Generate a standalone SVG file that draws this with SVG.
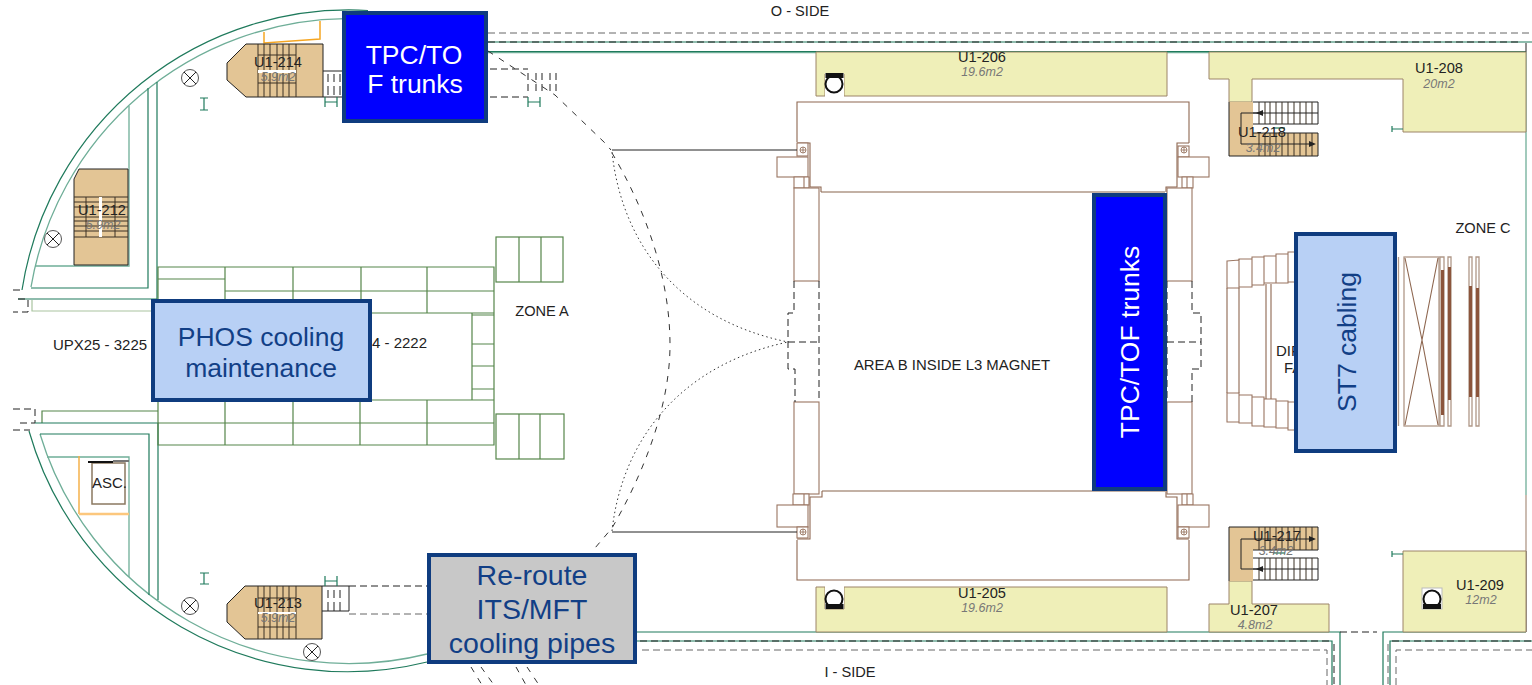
<svg xmlns="http://www.w3.org/2000/svg" width="1532" height="685" viewBox="0 0 1532 685">
<style>
text{font-family:"Liberation Sans",Arial,sans-serif;fill:#222}
.l{font-size:14.600px;text-anchor:middle}
.a{font-size:12.500px;font-style:italic;fill:#777;text-anchor:middle}
.c{font-size:26.500px;text-anchor:middle;fill:#123f86}
.c2{font-size:28.500px;text-anchor:middle;fill:#123f86}
.w{font-size:26.500px;text-anchor:middle;fill:#fff}
.g{fill:none;stroke:#1f7a5c;stroke-width:1.200}
.gl{fill:none;stroke:#6fae98;stroke-width:1.300}
.gr{fill:none;stroke:#55854a;stroke-width:1.200}
.grl{fill:none;stroke:#a9c4a0;stroke-width:1.200}
.b{fill:none;stroke:#8e6750;stroke-width:1.100}
.bl{fill:none;stroke:#b09888;stroke-width:1.300}
.bf{fill:#fff;stroke:#9a7561;stroke-width:1.100}
.k{fill:none;stroke:#222;stroke-width:1}
.kd{fill:none;stroke:#222;stroke-width:1;stroke-dasharray:7 4}
.kg{fill:none;stroke:#666;stroke-width:1;stroke-dasharray:7 4}
.sd{fill:none;stroke:#333;stroke-width:1;stroke-dasharray:6 7}
.dot{fill:none;stroke:#333;stroke-width:1;stroke-dasharray:1.500 3}
.tan{fill:#e3c595;stroke:#222;stroke-width:1}
.tn{fill:#e3c595}
.yel{fill:#efefb8;stroke:#9c8468;stroke-width:1}
.t{fill:none;stroke:#3a3025;stroke-width:1}
.mk{fill:none;stroke:#1f7a5c;stroke-width:1.200}
.xc{fill:#fff;stroke:#555;stroke-width:1}
.box{stroke:#0f3c7f;stroke-width:4}
</style>
<defs>
<g id="xmark"><circle r="8.500" class="xc"/><path d="M-6,-6L6,6M6,-6L-6,6" class="k" stroke="#444"/></g>
<g id="plus"><circle r="3" fill="none" stroke="#8e6750" stroke-width=".8"/><path d="M-3,0H3M0,-3V3" fill="none" stroke="#8e6750" stroke-width=".8"/></g>
</defs>

<g id="walls">
<path class="g" d="M22,290A331,331 0 0 1 368,10.500"/>
<path class="gl" d="M31,287A322.500,322.500 0 0 1 345,18.700"/>
<path class="g" d="M29,431A331,331 0 0 0 427,662"/>
<path class="gl" d="M40,434A322.500,322.500 0 0 0 427,654"/>
<path class="g" d="M157,82V299H18"/>
<path class="g" d="M148,88V288H31"/>
<path class="gl" d="M129,106V266H35"/>
<path class="grl" d="M32,300V311H152"/>
<path class="kd" d="M13,290H22M18,299H28M28,300V312H13"/>
<path class="kd" d="M13,409H35V423H17M13,430H30"/>
<path class="gr" d="M42,423V411H158"/>
<path class="g" d="M35,423H158V600"/>
<path class="g" d="M40,434H149V595"/>
<path class="gl" d="M47,457H129V577"/>
<path fill="none" stroke="#f5a623" stroke-width="1.500" d="M264,32V43L320,39V21"/>
<path fill="none" stroke="#f5b04a" stroke-width="1.500" d="M79,456V514"/>
<path fill="none" stroke="#fcc77d" stroke-width="2.500" d="M79,514H129"/>
<rect x="92" y="463" width="33" height="41" fill="#fff" stroke="#8a7860" stroke-width="1.500"/>
<path fill="none" stroke="#111" stroke-width="2" d="M88,462H113"/>
<path fill="none" stroke="#777" stroke-width="2" d="M113,461H129"/>

<path class="kg" d="M488,33H1532"/>
<path class="g" d="M488,42H1532"/>
<path class="kd" d="M488,42H1520"/>
<path class="gl" d="M488,52.500H1526"/>
<path class="g" d="M488,51.500H1526"/>
<path class="k" stroke="#555" d="M1526,43V52"/>
<path class="gl" d="M1526,52V495"/>
<path class="bl" d="M1526,495V551"/>
<path class="k" stroke="#555" d="M1526,551V632"/>
<path class="g" d="M636,632H1340V685"/>
<path class="kd" d="M1340,632H1377"/>
<path class="g" d="M1383,685V632H1526"/>
<path class="g" d="M636,641H1332V685"/>
<path class="kd" d="M640,641H1330M1334,644V685"/>
<path class="kg" d="M642,650H1327V685"/>
<path class="g" d="M1390,685V641H1532"/>
<path class="kd" d="M1392,641H1532"/>
<path class="kg" d="M1388,644V685M1396,685V650H1532"/>
</g>

<g id="grid">
<rect x="496" y="237" width="67" height="45" class="gr"/><path class="gr" d="M519,237V282M541,237V282"/>
<rect x="496" y="414" width="68" height="45" class="gr"/><path class="gr" d="M519,414V459M540,414V459"/>
<path class="gr" d="M158,267H494V445H158ZM158,279H225M225,267V313M293,267V313M361,267V313M427,267V313M225,291H494M158,313H494M158,400H494M158,423H494M225,400V445M293,400V445M360,400V445M427,400V445M472,313V400M472,315H494M472,344H494M472,366H494M472,389H494"/>
</g>

<g id="magnet">
<path class="b" d="M797,142V102H1189V143M797,540V580H1189V540"/>
<path class="bl" d="M821,192H1165M822,491H1165"/>
<path class="b" d="M797,143H810V187H821V192M1189,143H1177V187H1166V192"/>
<path class="b" d="M797,539H810V497H822V491M1189,539H1177V497H1166V491"/>
<rect x="797" y="143" width="11" height="13" class="bf"/><use href="#plus" x="803" y="150"/>
<rect x="777" y="157" width="31" height="20" class="bf"/>
<path class="bf" d="M794,177H809V188H794ZM804,177V188"/>
<rect x="794" y="188" width="25" height="93" class="bf"/>
<rect x="794" y="402" width="25" height="92" class="bf"/>
<path class="bf" d="M793,494H809V505H793ZM804,494V505"/>
<rect x="777" y="505" width="31" height="22" class="bf"/>
<rect x="797" y="527" width="11" height="11" class="bf"/><use href="#plus" x="803" y="532"/>
<rect x="1178" y="146" width="11" height="11" class="bf"/><use href="#plus" x="1184" y="150"/>
<rect x="1178" y="157" width="31" height="20" class="bf"/>
<path class="bf" d="M1182,177H1193V188H1182ZM1187,177V188"/>
<rect x="1167" y="188" width="25" height="93" class="bf"/>
<rect x="1167" y="402" width="25" height="92" class="bf"/>
<path class="bf" d="M1182,494H1193V505H1182ZM1187,494V505"/>
<rect x="1178" y="505" width="31" height="22" class="bf"/>
<rect x="1178" y="527" width="11" height="11" class="bf"/><use href="#plus" x="1184" y="532"/>
<path class="kd" d="M794,281V313H788V369H795V402M819,281V402M788,342H819"/>
<path class="kd" d="M1192,281V313H1201V369H1192V402M1167,281V402M1167,342H1201"/>
<path class="k" stroke="#444" d="M612,150H797M612,532H797"/>
</g>

<g id="curves">
<path class="sd" d="M488,51L555,95L605,143L611,150"/>
<path class="sd" d="M612,153C640,200 670,270 670,345C670,410 640,480 612,528L595,548"/>
<path class="dot" d="M612,152C622,245 680,320 788,342"/>
<path class="dot" d="M612,531C622,440 680,365 788,342"/>
<path class="sd" d="M471,667L482,685M481,667L494,685M516,667L526,685M527,667L539,685"/>
<path class="kd" d="M490,69H528M490,97H528"/>
<path class="kd" d="M349,586H427"/>
<path class="kg" d="M349,614H427"/>
</g>

<g id="stair-214">
<path class="tan" d="M246,44H323V97H246L227,80V63Z"/>
<path class="t" d="M258,44V97M264,44V97M270,44V97M277,44V97M283,44V97M289,44V97M296,44V97M258,55H296M258,83H296"/>
<rect x="258" y="70" width="38" height="3" fill="#fff"/>
<path class="k" d="M323,71H343M323,97H343M328,74V82M334,74V82M340,74V82M328,86V95M334,86V95M340,86V95"/>
<path class="kd" d="M528,73V95M536,73V95M542,73V95M550,73V95M556,73V95"/>
<path class="mk" d="M325,97V107M337,97V107M325,102H337M528,97V107M540,97V107M528,102H540M200,98H208M204,98V110M200,110H208"/>
<use href="#xmark" x="190" y="78"/>
<text x="278" y="67" class="l">U1-214</text><text x="278" y="81" class="a">5.9m2</text>
</g>

<g id="stair-212">
<path class="tan" d="M79,169H128V265H74V179Z"/>
<path class="t" d="M74,197H128M74,202H128M74,207H128M74,217H128M74,221H128M74,226H128M74,231H128M74,237H128M86,197V237M115,197V237"/>
<rect x="99" y="197" width="3" height="40" fill="#fff"/>
<use href="#xmark" x="53" y="239"/>
<text x="102" y="215" class="l">U1-212</text><text x="103" y="229" class="a">5.9m2</text>
</g>

<g id="stair-213">
<path class="tan" d="M245,586H322V639H245L227,622V604Z"/>
<path class="t" d="M258,586V639M264,586V639M270,586V639M277,586V639M283,586V639M289,586V639M296,586V639M258,598H296M258,627H296"/>
<rect x="258" y="612" width="38" height="2" fill="#fff"/>
<path class="k" d="M322,586H349V611H322M328,590V598M334,590V598M340,590V598M328,602V611M334,602V611M340,602V611"/>
<path class="mk" d="M325,576V586M337,576V586M325,581H337M200,573H209M204,573V584M200,584H209"/>
<use href="#xmark" x="190" y="606"/><use href="#xmark" x="312" y="652"/>
<text x="278" y="608" class="l">U1-213</text><text x="278" y="622" class="a">5.9m2</text>
</g>

<g id="room-206">
<path class="yel" d="M816,52H1167V96H844V74H825V96H816Z"/>
<rect x="825" y="73" width="19" height="23" fill="#fff"/>
<circle cx="834" cy="84" r="8.500" fill="#fff" stroke="#111" stroke-width="2"/><path fill="#111" d="M825.500,73H843.500V78H825.500Z"/>
<text x="982" y="62" class="l">U1-206</text><text x="982" y="76" class="a">19.6m2</text>
</g>
<g id="room-205">
<path class="yel" d="M816,587H825V609H844V587H1167V632H816Z"/>
<rect x="825" y="587" width="19" height="22" fill="#fff"/>
<circle cx="834" cy="599" r="8.500" fill="#fff" stroke="#111" stroke-width="2"/><path fill="#111" d="M825.500,604H843.500V609H825.500Z"/>
<text x="982" y="598" class="l">U1-205</text><text x="982" y="612" class="a">19.6m2</text>
</g>
<g id="room-208">
<path class="yel" d="M1209,52H1526V132H1403V79H1252V102H1229V79H1209Z"/>
<text x="1439" y="73" class="l">U1-208</text><text x="1439" y="88" class="a">20m2</text>
<path class="mk" d="M1392,126V132M1392,129H1403"/>
</g>
<g id="room-207">
<path class="yel" d="M1229,581H1252V604H1329V632H1209V604H1229Z"/>
<text x="1254" y="615" class="l">U1-207</text><text x="1255" y="629" class="a">4.8m2</text>
</g>
<g id="room-209">
<path class="yel" d="M1403,551H1526V632H1403Z"/>
<rect x="1422" y="588" width="20" height="21" fill="#fff" stroke="#bbb"/>
<circle cx="1432" cy="599" r="8.500" fill="#fff" stroke="#111" stroke-width="2"/><path fill="#111" d="M1423,604H1441V609H1423Z"/>
<text x="1480" y="590" class="l">U1-209</text><text x="1481" y="604" class="a">12m2</text>
<path class="mk" d="M1392,551V557M1392,554H1403"/>
</g>

<g id="stair-218">
<rect x="1229" y="102" width="24" height="54" class="tn"/>
<rect x="1253" y="133" width="65" height="23" class="tn"/>
<path class="k" d="M1229,102V156H1318V133H1253M1253,102H1318V124H1253"/>
<path class="t" d="M1259,102V124M1265,102V124M1270,102V124M1276,102V124M1282,102V124M1288,102V124M1294,102V124M1300,102V124M1306,102V124M1312,102V124M1259,133V156M1265,133V156M1270,133V156M1276,133V156M1282,133V156M1288,133V156M1294,133V156M1300,133V156M1306,133V156M1312,133V156"/>
<path class="k" d="M1262,113H1241V144H1313M1253,113H1318"/>
<path fill="#222" d="M1256,113L1263,110V116ZM1316,144L1309,141V147Z"/>
<path class="mk" d="M1273,128H1285"/>
<text x="1262" y="137" class="l">U1-218</text><text x="1263" y="152" class="a">3.4m2</text>
</g>
<g id="stair-217">
<rect x="1229" y="527" width="24" height="54" class="tn"/>
<rect x="1253" y="527" width="65" height="23" class="tn"/>
<path class="k" d="M1229,581V527H1318V550H1253M1253,558H1318V580H1253"/>
<path class="t" d="M1259,558V580M1265,558V580M1270,558V580M1276,558V580M1282,558V580M1288,558V580M1294,558V580M1300,558V580M1306,558V580M1312,558V580M1259,527V550M1265,527V550M1270,527V550M1276,527V550M1282,527V550M1288,527V550M1294,527V550M1300,527V550M1306,527V550M1312,527V550"/>
<path class="k" d="M1262,569H1241V539H1313M1253,569H1318"/>
<path fill="#222" d="M1256,569L1263,566V572ZM1316,539L1309,536V542Z"/>
<path class="mk" d="M1273,553H1285"/>
<text x="1277" y="541" class="l">U1-217</text><text x="1276" y="555" class="a">3.4m2</text>
</g>

<g id="dipole">
<path class="bf" d="M1227,261L1239,260V288H1227ZM1239,259H1252V287H1239ZM1252,257H1264V285H1252ZM1264,256H1276V283H1264ZM1276,254H1288V283H1276ZM1288,252H1296V282H1288Z"/>
<path class="bf" d="M1227,393H1239V422H1227ZM1239,395H1252V423H1239ZM1252,397H1264V426H1252ZM1264,399H1276V427H1264ZM1276,401H1288V428H1276ZM1288,402H1296V430H1288Z"/>
<path class="b" d="M1227,288V393M1239,288V393M1266,284V399M1271,284V399"/>
<rect x="1404" y="257" width="35" height="169" class="bl"/>
<path class="b" d="M1405,258L1422,340L1405,425M1438,258L1422,340L1438,425"/>
<path class="bl" d="M1398.500,257V426M1440,257H1444V426H1440ZM1448,257H1451V426H1448ZM1469,257H1472V426H1469ZM1476,257H1479V426H1476Z"/>
<path fill="#8b553c" d="M1441,270H1444V415H1441ZM1448,267H1451V400H1448ZM1469,286H1472V397H1469ZM1476,288H1479V397H1476Z"/>
<text x="1276" y="356" style="font-size:15px">DIP</text><text x="1284" y="373" style="font-size:15px">FA</text>
</g>

<g id="labels">
<text x="800" y="16" class="l">O - SIDE</text>
<text x="850" y="677" class="l">I - SIDE</text>
<text x="542" y="316" class="l">ZONE A</text>
<text x="1483" y="233" class="l">ZONE C</text>
<text x="952" y="370" style="font-size:14.900px;text-anchor:middle">AREA B INSIDE L3 MAGNET</text>
<text x="100" y="350" style="font-size:15px;text-anchor:middle">UPX25 - 3225</text>
<text x="372" y="348" style="font-size:15px">4 - 2222</text>
<text x="109.500" y="488" style="font-size:15px;text-anchor:middle">ASC.</text>
</g>

<g id="callout-tpc-top">
<rect x="344" y="13" width="142" height="108" fill="#0000ff" class="box"/>
<text x="414" y="64" class="w">TPC/TO</text><text x="415" y="93" class="w">F trunks</text>
</g>
<g id="callout-phos">
<rect x="153" y="301" width="217" height="99" fill="#b8d0f5" class="box"/>
<text x="261" y="346" class="c">PHOS cooling</text><text x="261" y="377" class="c">maintenance</text>
</g>
<g id="callout-reroute">
<rect x="429" y="555" width="206" height="107" fill="#c8c8c8" class="box"/>
<text x="532" y="585" class="c2">Re-route</text><text x="532" y="619" class="c2">ITS/MFT</text><text x="532" y="653" class="c2">cooling pipes</text>
</g>
<g id="callout-tpc-right">
<rect x="1094" y="195" width="71" height="294" fill="#0000ff" class="box"/>
<text transform="translate(1139,342) rotate(-90)" class="w">TPC/TOF trunks</text>
</g>
<g id="callout-st7">
<rect x="1296" y="234" width="99" height="217" fill="#b8d0f5" class="box"/>
<text transform="translate(1356,342) rotate(-90)" class="c">ST7 cabling</text>
</g>
</svg>
